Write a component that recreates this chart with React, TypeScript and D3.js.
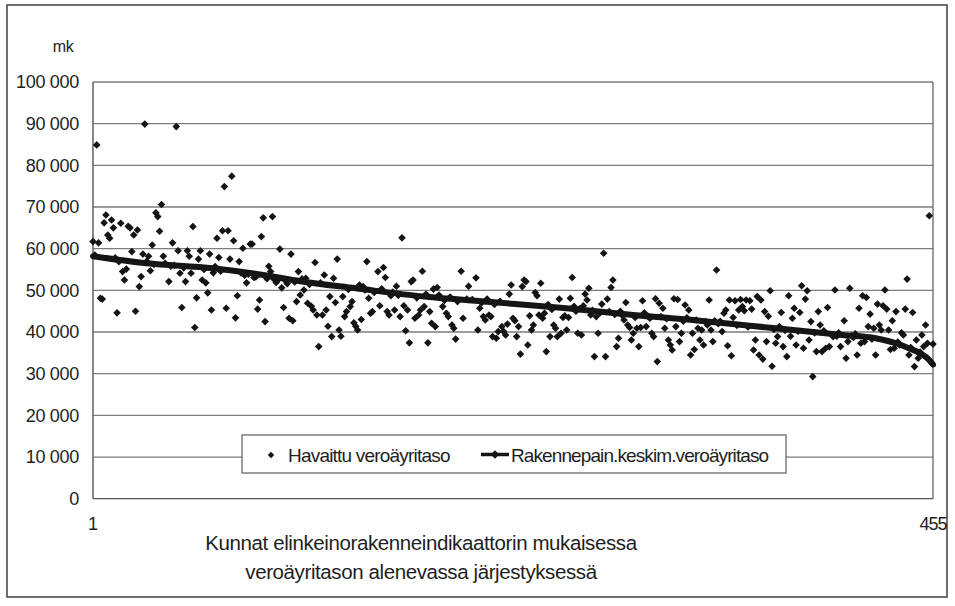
import React from "react";
import * as d3 from "d3";

// Observed tax level (mk) per municipality rank: [rank, value in thousand mk]
const observed: [number, number][] = [
  [3,84.9],[29,89.9],[46,89.3],[72,74.9],[76,77.4],[38,70.6],[35,68.6],[36,67.7],[8,68.1],[7,66.2],[11,66.9],[12,65.0],[16,66.1],[20,65.4],[21,65.0],[25,64.5],[23,63.3],[9,63.3],[10,62.5],[1,61.7],[4,61.4],[37,64.2],[33,60.9],[44,61.4],[55,65.3],[68,62.5],[71,64.3],[74,64.3],[77,61.9],[92,62.9],[93,67.4],[98,67.7],[87,61.1],[86,61.1],[82,60.1],[102,59.9],[108,58.7],[22,59.3],[28,58.7],[31,58.2],[39,58.2],[47,59.5],[52,59.5],[53,58.2],[59,59.5],[58,57.5],[64,58.7],[69,57.9],[75,57.5],[80,56.9],[15,56.9],[17,54.5],[18,52.5],[19,55.1],[27,53.3],[26,50.9],[32,54.7],[42,52.1],[48,54.1],[51,52.1],[54,54.1],[60,52.5],[62,51.8],[67,55.7],[66,54.2],[84,51.8],[88,53.1],[96,55.8],[97,54.5],[101,52.5],[103,50.6],[112,54.5],[5,48.1],[6,47.9],[14,44.6],[24,45.0],[49,45.9],[57,48.2],[56,41.1],[63,49.4],[65,45.3],[73,45.7],[78,43.4],[79,48.7],[91,47.7],[90,45.5],[94,42.5],[104,45.9],[107,43.3],[109,42.7],[111,47.3],[113,48.9],
  [2,58.5],[13,57.8],[30,57.0],[34,56.2],[40,56.5],[43,55.8],[45,56.0],[50,55.4],[61,55.0],[70,54.6],[81,54.2],[83,53.6],[85,53.9],[89,53.2],[95,52.8],[99,52.6],[100,51.9],[105,52.3],[106,51.6],[110,52.0],
  [121,56.7],[133,57.5],[149,56.9],[155,54.5],[158,55.5],[159,53.1],[168,62.6],[165,51.0],[173,52.1],[174,52.5],[179,54.6],[200,54.6],[208,53.0],[204,51.0],
  [115,50.1],[116,52.9],[117,46.9],[119,46.2],[120,45.3],[122,44.1],[125,44.1],[123,36.5],[126,53.7],[127,45.3],[129,48.5],[128,41.4],[130,38.9],[131,52.9],[132,47.1],[134,40.5],[135,39.0],[136,48.5],[137,43.7],[138,44.9],[140,46.1],[141,47.3],[142,42.2],[143,41.4],[144,40.5],[146,43.0],[147,50.9],[148,50.1],[151,44.5],[152,44.9],[150,48.1],[156,46.3],[160,44.9],[161,44.1],[162,48.7],[164,45.3],[167,43.7],[169,46.3],[171,45.3],[170,40.3],[172,37.4],[175,43.3],[177,44.1],[178,45.3],[180,46.1],[181,49.1],[182,37.4],[183,44.9],[184,42.1],[186,41.3],[185,50.3],[187,50.7],[190,46.1],[192,44.5],[193,43.7],[195,41.7],[196,40.9],[197,38.3],[201,43.3],[206,47.8],[210,45.7],[212,43.7],[213,42.9],[209,40.5],[215,44.1],[216,43.7],[217,38.9],[219,38.5],[220,40.1],
  [114,52.8],[118,51.4],[124,51.8],[139,50.2],[145,51.3],[153,49.5],[157,50.4],[163,49.6],[166,48.8],[176,48.2],[188,48.9],[191,47.6],[194,48.4],[198,47.3],[203,47.9],[211,47.0],[214,47.9],[218,46.6],
  [277,58.9],[338,54.9],[227,51.3],[226,49.1],[234,52.5],[235,52.1],[233,50.9],[240,49.5],[241,48.7],[243,51.7],[260,53.1],[253,47.9],[259,48.1],[269,50.5],[267,49.1],[268,47.7],[282,52.5],[281,50.7],[279,47.9],[276,46.7],[289,47.1],[298,47.5],[305,48.0],[307,46.9],[309,45.7],[315,48.0],[317,47.8],[321,46.5],[323,45.3],[334,47.7],
  [222,41.3],[223,40.1],[224,39.3],[225,41.9],[228,43.3],[229,42.7],[230,38.9],[231,41.3],[232,34.7],[236,36.9],[237,43.9],[238,40.5],[239,41.7],[242,44.1],[244,43.3],[245,44.5],[246,35.3],[248,38.9],[250,41.7],[251,40.9],[252,38.9],[254,39.7],[257,40.5],[255,43.5],[256,43.9],[258,43.5],[263,39.7],[265,39.3],[270,44.1],[273,43.7],[274,39.7],[272,34.1],[278,34.1],[284,36.5],[285,38.5],[288,42.9],[290,41.7],[291,41.1],[293,39.7],[292,38.1],[295,40.9],[297,41.1],[300,41.3],[296,36.5],[303,39.7],[304,38.9],[306,32.9],[310,40.9],[312,38.1],[313,36.9],[314,35.7],[316,41.3],[318,37.7],[319,39.7],[324,34.5],[326,35.8],[325,39.7],[328,40.9],[330,40.5],[329,38.1],[331,36.9],[332,42.5],[335,40.5],[336,37.7],
  [221,47.4],[247,46.6],[249,45.4],[261,46.2],[262,45.0],[264,45.6],[266,46.3],[271,45.2],[275,44.6],[280,44.9],[283,44.2],[286,45.0],[287,44.0],[294,43.5],[299,44.6],[301,43.8],[302,43.3],[308,43.7],[311,43.2],[320,42.6],[322,43.4],[327,42.9],[333,41.7],[337,42.7],[339,42.0],
  [453,67.9],[441,52.7],[384,51.1],[387,49.9],[386,47.9],[367,49.9],[377,48.7],[402,50.1],[410,50.5],[429,50.1],[417,48.7],[419,48.3],[345,47.7],[348,47.5],[351,47.8],[354,47.7],[356,47.5],[360,48.5],[362,47.7],[343,45.3],[342,44.5],[352,46.1],[353,45.1],[350,45.3],[357,45.5],[364,44.9],[366,43.8],[373,44.7],[380,45.7],[383,44.7],[379,43.3],[393,44.9],[398,45.9],[389,42.5],[394,41.7],[415,45.7],[421,44.3],[425,46.7],[428,46.3],[430,45.5],[435,44.9],[440,45.5],[444,44.7],[433,42.7],[347,43.5],[346,34.3],[344,36.7],[341,40.1],[358,35.7],[361,34.5],[363,33.5],[359,38.1],[365,37.7],[368,31.8],[370,37.3],[371,38.9],[374,36.5],[376,34.1],[378,39.0],[381,36.9],[385,36.1],[388,38.1],[392,35.3],[395,35.3],[397,36.1],[399,36.5],[390,29.3],[401,38.9],[404,39.8],[407,42.7],[405,36.5],[408,33.7],[409,37.7],[414,34.5],[416,37.3],[418,37.7],[420,41.3],[423,40.9],[426,41.7],[424,34.5],[427,40.5],[432,35.8],[434,36.1],[431,40.5],[438,39.8],[439,39.3],[442,34.5],[445,31.7],[447,33.7],[446,38.1],[449,39.3],[451,41.7],[452,37.3],[455,37.1],[454,32.7],[450,36.5],
  [340,42.6],[349,41.6],[355,41.2],[369,40.6],[372,41.3],[375,40.4],[382,40.2],[391,39.8],[396,40.3],[400,39.4],[403,39.0],[411,39.1],[412,38.7],[413,39.6],[422,38.3],[436,37.6],[437,36.9],[443,36.3],[448,35.2]
];

// Structure-weighted average tax level (line), read at ranks
const lineRank = [1, 30, 66, 93, 113, 143, 180, 216, 257, 293, 329, 340, 370, 406, 424, 435, 442, 448, 453, 455];
const lineValue = [58.2, 56.5, 55.3, 53.7, 52.2, 50.5, 48.5, 47.2, 45.7, 44.1, 42.7, 42.2, 40.9, 39.3, 38.5, 37.3, 36.1, 34.9, 33.3, 32.2];

const yTicks = [0, 10000, 20000, 30000, 40000, 50000, 60000, 70000, 80000, 90000, 100000];
const xTickLabels = ["1", "455"];
const seriesNames = ["Havaittu veroäyritaso", "Rakennepain.keskim.veroäyritaso"];
const unitLabel = "mk";
const xTitle = ["Kunnat elinkeinorakenneindikaattorin mukaisessa", "veroäyritason alenevassa järjestyksessä"];

const W = 955, H = 606;
const L = 93, R = 933, T = 82, B = 498.7;
const FONT = "'Liberation Sans', Arial, sans-serif";
const TXT = "#1e1e1e";

const fmt = d3.formatLocale({ decimal: ",", thousands: " ", grouping: [3], currency: ["", ""] }).format(",");

function diamond(cx: number, cy: number, r: number) {
  return `M${cx},${cy - r}L${cx + r},${cy}L${cx},${cy + r}L${cx - r},${cy}Z`;
}

export default function App() {
  const x = d3.scaleLinear().domain([1, 455]).range([L, R]);
  const y = d3.scaleLinear().domain([0, 100000]).range([B, T]);
  const line = d3.line<number>()
    .x((_, i) => x(lineRank[i]))
    .y((d) => y(d * 1000))
    .curve(d3.curveMonotoneX);

  return (
    <svg width={W} height={H} style={{ position: "absolute", left: 0, top: 0, background: "#fff" }} fontFamily={FONT}>
      <rect x={0} y={0} width={W} height={H} fill="#fff" />
      <rect x={7} y={5} width={940} height={592} fill="none" stroke="#4a4a4a" strokeWidth={1.6} />
      {/* grid */}
      {yTicks.map((t) => (
        <line key={t} x1={L} x2={R} y1={y(t)} y2={y(t)} stroke={t === 0 ? "#555" : "#7d7d7d"} strokeWidth={1.3} />
      ))}
      <line x1={L} x2={L} y1={T} y2={B} stroke="#555" strokeWidth={1.4} />
      <line x1={R} x2={R} y1={T} y2={B} stroke="#666" strokeWidth={1.3} />
      {/* y labels */}
      {yTicks.map((t) => (
        <text key={t} x={79} y={y(t) + 6.3} textAnchor="end" fontSize={18} fill={TXT} letterSpacing={-0.3}>
          {fmt(t)}
        </text>
      ))}
      <text x={63} y={51.5} textAnchor="middle" fontSize={16} fill={TXT} letterSpacing={-0.4}>{unitLabel}</text>
      {/* x labels */}
      <text x={x(1)} y={530} textAnchor="middle" fontSize={18} fill={TXT}>{xTickLabels[0]}</text>
      <text x={x(455)} y={530} textAnchor="middle" fontSize={18} fill={TXT} letterSpacing={-1}>{xTickLabels[1]}</text>
      <text x={421} y={550} textAnchor="middle" fontSize={20.5} fill={TXT} letterSpacing={-0.4}>{xTitle[0]}</text>
      <text x={421} y={579} textAnchor="middle" fontSize={20.5} fill={TXT} letterSpacing={-0.4}>{xTitle[1]}</text>
      {/* points */}
      <g fill="#141414">
        {observed.map(([r, v], i) => (
          <path key={i} d={diamond(x(r), y(v * 1000), 3.8)} />
        ))}
      </g>
      {/* line */}
      <path d={line(lineValue) || ""} fill="none" stroke="#151515" strokeWidth={6} strokeLinejoin="round" strokeLinecap="round" />
      {/* legend */}
      <rect x={242} y={435} width={544} height={38} fill="#fff" stroke="#6a6a6a" strokeWidth={1.3} />
      <path d={diamond(271, 455, 3.2)} fill="#141414" />
      <text x={288} y={461.5} fontSize={19} fill={TXT} letterSpacing={-0.8}>{seriesNames[0]}</text>
      <line x1={481} x2={509} y1={454.5} y2={454.5} stroke="#151515" strokeWidth={3.5} />
      <path d={diamond(495, 454.5, 4.2)} fill="#141414" />
      <text x={511} y={461.5} fontSize={19} fill={TXT} letterSpacing={-0.9}>{seriesNames[1]}</text>
    </svg>
  );
}
